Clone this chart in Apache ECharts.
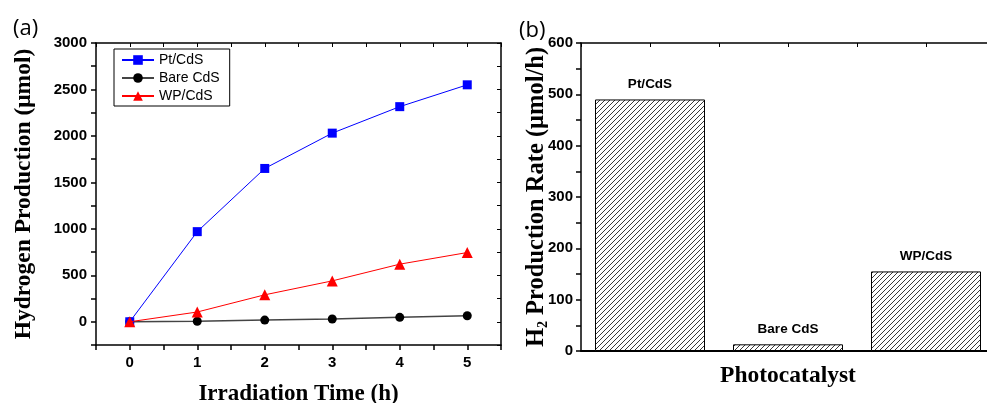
<!DOCTYPE html>
<html>
<head>
<meta charset="utf-8">
<script src="https://cdn.jsdelivr.net/npm/echarts@6/dist/echarts.min.js"></script>
<style>html,body{margin:0;padding:0;background:#fff}#c{width:987px;height:403px}</style>
</head>
<body>
<div id="c"></div>
<script>
// ---- data ----
const timeHours = [0, 1, 2, 3, 4, 5];
const ptCdS = [0, 970, 1650, 2030, 2315, 2550];
const bareCdS = [0, 5, 18, 30, 48, 65];
const wpCdS = [0, 105, 290, 440, 620, 745];
const catalysts = ['Pt/CdS', 'Bare CdS', 'WP/CdS'];
const rates = [490, 13, 155];
const leftYTicks = [0, 500, 1000, 1500, 2000, 2500, 3000];
const rightYTicks = [0, 100, 200, 300, 400, 500, 600];

// hatch pattern
const pc = document.createElement('canvas');
pc.width = 5; pc.height = 5;
const g = pc.getContext('2d');
g.fillStyle = '#fff'; g.fillRect(0, 0, 5, 5);
g.strokeStyle = '#222'; g.lineWidth = 0.9;
g.beginPath();
g.moveTo(-1, 6); g.lineTo(6, -1);
g.moveTo(-1, 1); g.lineTo(1, -1);
g.moveTo(4, 6); g.lineTo(6, 4);
g.stroke();

const tickFont = {fontFamily: 'Liberation Sans, Arial', fontWeight: 'bold', fontSize: 15, color: '#000'};
const nameFont = {fontFamily: 'Liberation Serif, Times New Roman', fontWeight: 'bold', fontSize: 23, color: '#000'};
const line = {show: true, onZero: false, lineStyle: {color: '#000', width: 1.5}};

const chart = echarts.init(document.getElementById('c'), null, {renderer: 'canvas'});
chart.setOption({
  animation: false,
  backgroundColor: '#fff',
  title: [
    {text: '(a)', left: 8, top: 13, textStyle: {fontFamily: 'Open Sans', fontWeight: 'normal', fontSize: 22, color: '#000'}},
    {text: '(b)', left: 514, top: 15, textStyle: {fontFamily: 'Open Sans', fontWeight: 'normal', fontSize: 22, color: '#000'}}
  ],
  legend: {
    left: 114, top: 49, orient: 'vertical',
    borderColor: '#000', borderWidth: 1, borderRadius: 0,
    padding: [4, 10, 3, 7], itemGap: 4, itemWidth: 32, itemHeight: 12,
    textStyle: {fontFamily: 'Liberation Sans, Arial', fontSize: 14, color: '#000', padding: [0, 0, 0, 0]},
    data: ['Pt/CdS', 'Bare CdS', 'WP/CdS']
  },
  grid: [
    {left: 96, right: 486, top: 43, bottom: 58, containLabel: false, outerBoundsMode: 'none'},
    {left: 581, right: -8, top: 43, bottom: 52, containLabel: false, outerBoundsMode: 'none'}
  ],
  xAxis: [
    {gridIndex: 0, type: 'value', min: -0.5, max: 5.5, interval: 0.5,
     name: 'Irradiation Time (h)', nameLocation: 'middle', nameGap: 38, nameTextStyle: nameFont,
     nameMoveOverlap: false,
     axisLine: line,
     axisTick: {inside: false, length: 5, lineStyle: {color: '#000', width: 1.5}},
     axisLabel: Object.assign({margin: 10, formatter: v => (Number.isInteger(v) && v >= 0) ? String(v) : ''}, tickFont),
     splitLine: {show: false}},
    {gridIndex: 0, type: 'value', position: 'top', min: -0.5, max: 5.5, interval: 0.5,
     axisLine: line,
     axisTick: {inside: true, length: 4, lineStyle: {color: '#000'}},
     axisLabel: {show: false}, splitLine: {show: false}},
    {gridIndex: 1, type: 'category', data: catalysts,
     name: 'Photocatalyst', nameLocation: 'middle', nameGap: 13,
     nameTextStyle: Object.assign({}, nameFont, {fontSize: 23.5}),
     nameMoveOverlap: false,
     axisLine: {show: true, onZero: false, lineStyle: {color: '#000', width: 2}},
     axisTick: {show: false}, axisLabel: {show: false}, splitLine: {show: false}},
    {gridIndex: 1, type: 'value', position: 'top', min: 0, max: 6, interval: 1,
     axisLine: line,
     axisTick: {inside: true, length: 4, lineStyle: {color: '#000'}},
     axisLabel: {show: false}, splitLine: {show: false}}
  ],
  yAxis: [
    {gridIndex: 0, type: 'value', min: -250, max: 3000, interval: 250,
     name: 'Hydrogen Production (μmol)', nameLocation: 'middle', nameGap: 60,
     nameTextStyle: Object.assign({}, nameFont, {fontSize: 23.5}),
     nameMoveOverlap: false,
     axisLine: line,
     axisTick: {inside: false, length: 5, lineStyle: {color: '#000', width: 1.5}},
     axisLabel: Object.assign({margin: 9, formatter: v => (v >= 0 && v % 500 === 0) ? String(v) : ''}, tickFont),
     splitLine: {show: false}},
    {gridIndex: 0, type: 'value', position: 'right', min: -250, max: 3000, interval: 250,
     axisLine: line,
     axisTick: {inside: true, length: 4, lineStyle: {color: '#000'}},
     axisLabel: {show: false}, splitLine: {show: false}},
    {gridIndex: 1, type: 'value', min: 0, max: 600, interval: 50,
     name: '{n|H}{s|2}{n| Production Rate (μmol/h)}', nameLocation: 'middle', nameGap: 30,
     nameMoveOverlap: false,
     nameTextStyle: {rich: {
       n: Object.assign({}, nameFont, {fontSize: 24.5, lineHeight: 28}),
       s: Object.assign({}, nameFont, {fontSize: 14, lineHeight: 28, padding: [13, 0, 0, 0]})
     }},
     axisLine: line,
     axisTick: {inside: false, length: 5, lineStyle: {color: '#000', width: 1.5}},
     axisLabel: Object.assign({margin: 8, formatter: v => (v % 100 === 0) ? String(v) : ''}, tickFont),
     splitLine: {show: false}}
  ],
  series: [
    {name: 'Pt/CdS', type: 'line', xAxisIndex: 0, yAxisIndex: 0,
     data: timeHours.map((t, i) => [t, ptCdS[i]]),
     symbol: 'rect', symbolSize: 9, itemStyle: {color: '#0000ff'}, lineStyle: {color: '#0000ff', width: 1}, z: 3},
    {name: 'Bare CdS', type: 'line', xAxisIndex: 0, yAxisIndex: 0,
     data: timeHours.map((t, i) => [t, bareCdS[i]]),
     symbol: 'circle', symbolSize: 9, itemStyle: {color: '#000'}, lineStyle: {color: '#444', width: 1.5}, z: 2},
    {name: 'WP/CdS', type: 'line', xAxisIndex: 0, yAxisIndex: 0,
     data: timeHours.map((t, i) => [t, wpCdS[i]]),
     symbol: 'triangle', symbolSize: 11, itemStyle: {color: '#ff0000'}, lineStyle: {color: '#ff0000', width: 1}, z: 4},
    {name: 'rate', type: 'bar', xAxisIndex: 2, yAxisIndex: 2,
     data: rates, barWidth: 110,
     itemStyle: {color: {image: pc, repeat: 'repeat'}, borderColor: '#000', borderWidth: 1},
     label: {show: true, position: 'top', distance: 8, formatter: p => p.name,
             fontFamily: 'Liberation Sans, Arial', fontWeight: 'bold', fontSize: 13.5, color: '#000'}}
  ]
});
</script>
</body>
</html>
